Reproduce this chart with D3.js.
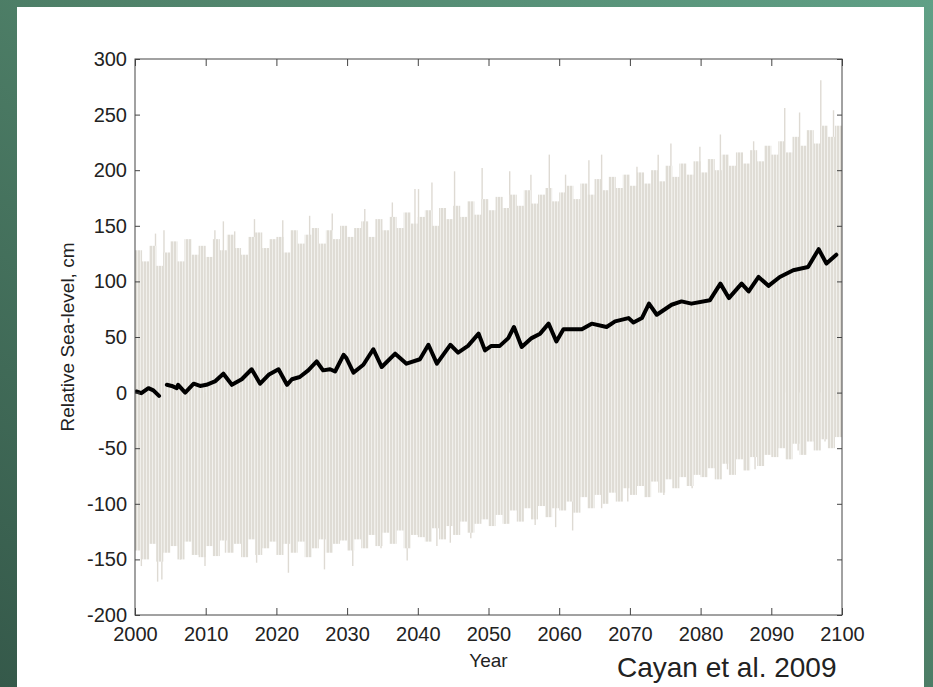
<!DOCTYPE html>
<html>
<head>
<meta charset="utf-8">
<script src="https://cdn.jsdelivr.net/npm/d3@7"></script>
<style>
    body { margin: 0; padding: 0; overflow: hidden; }
    text { font-family: "Liberation Sans", Arial, sans-serif; fill: #222; }
</style>
</head>
<body>
<svg id="Chart"></svg>
<script>
    // hourly tide envelope, one value per year (typical upper and lower extent), cm
    let tideYears = d3.range(2000, 2100);
    let tideHigh = [
        128, 118, 132, 114, 126, 136, 118, 138, 124, 132,
        122, 138, 128, 142, 130, 124, 140, 144, 130, 138,
        140, 126, 146, 134, 142, 148, 134, 146, 138, 150,
        140, 148, 154, 140, 156, 146, 158, 148, 162, 152,
        158, 164, 150, 166, 156, 168, 158, 172, 160, 174,
        164, 176, 166, 178, 168, 182, 170, 178, 184, 172,
        180, 186, 174, 188, 178, 192, 182, 194, 184, 196,
        186, 198, 188, 200, 190, 204, 194, 206, 196, 208,
        198, 210, 200, 214, 204, 216, 206, 218, 208, 222,
        214, 226, 216, 230, 222, 236, 224, 240, 230, 240
    ];
    let tideLow = [
        -142, -150, -136, -152, -144, -138, -150, -134, -146, -148,
        -138, -147, -133, -144, -136, -148, -132, -146, -140, -134,
        -146, -136, -144, -134, -148, -140, -132, -144, -136, -133,
        -142, -132, -140, -128, -138, -126, -136, -124, -140, -128,
        -130, -134, -122, -132, -120, -128, -116, -126, -118, -114,
        -120, -110, -118, -106, -116, -104, -114, -102, -112, -104,
        -106, -98, -108, -94, -104, -92, -100, -90, -98, -86,
        -92, -84, -94, -80, -90, -78, -86, -76, -84, -74,
        -76, -68, -78, -64, -74, -60, -70, -58, -66, -56,
        -58, -50, -60, -46, -56, -44, -52, -42, -50, -40
    ];
    // single extreme tides standing out of the envelope
    let peakYears = [2002.9, 2004.1, 2011.3, 2012.5, 2014.1, 2016.9, 2020.9, 2024.7, 2027.9, 2032.5,
        2036.4, 2039.6, 2040.1, 2042.0, 2045.2, 2049.1, 2053.0, 2056.0, 2058.6, 2060.9,
        2064.2, 2066.0, 2071.0, 2074.0, 2075.8, 2079.9, 2082.8, 2087.5, 2091.9, 2094.0, 2097.0, 2098.8];
    let peakValues = [143, 146, 146, 154, 145, 156, 155, 159, 161, 165,
        171, 183, 183, 189, 199, 202, 199, 196, 214, 196,
        209, 214, 203, 214, 224, 221, 232, 226, 256, 252, 281, 254];
    let troughYears = [2000.9, 2003.2, 2003.8, 2006.4, 2009.9, 2012.8, 2017.2, 2021.7, 2026.8, 2030.8,
        2034.8, 2038.5, 2042.7, 2044.6, 2047.5, 2052.3, 2056.6, 2059.5, 2061.9, 2066.0,
        2069.7, 2074.8, 2078.8, 2083.8, 2087.7, 2093.8, 2097.6];
    let troughValues = [-156, -170, -168, -150, -156, -144, -153, -162, -159, -156,
        -140, -151, -138, -135, -131, -118, -119, -121, -124, -104,
        -98, -92, -86, -69, -69, -52, -44];

    // smoothed relative sea level (black curve); NaN marks the data gap
    let meanYears = [2000.2, 2000.9, 2001.9, 2002.6, 2003.4, 2003.9,
        2004.5, 2005.2, 2005.9, 2006.1, 2007.1, 2008.3, 2009.2, 2010.1, 2011.3, 2012.5,
        2013.7, 2015.1, 2016.5, 2017.7, 2018.9, 2020.3, 2021.5, 2022.2, 2023.3, 2024.5,
        2025.7, 2026.6, 2027.6, 2028.3, 2029.5, 2029.9, 2030.9, 2032.3, 2033.7, 2034.9,
        2036.8, 2038.4, 2040.3, 2041.5, 2042.7, 2044.6, 2045.7, 2047.1, 2048.6, 2049.5,
        2050.4, 2051.6, 2052.8, 2053.6, 2054.7, 2056.1, 2057.3, 2058.5, 2059.6, 2060.6,
        2063.2, 2064.6, 2066.7, 2067.9, 2069.8, 2070.5, 2071.7, 2072.7, 2073.8, 2075.9,
        2077.3, 2078.7, 2081.3, 2082.8, 2084.0, 2085.8, 2086.8, 2088.2, 2089.6, 2091.2,
        2093.1, 2095.2, 2096.7, 2097.8, 2099.2];
    let meanValues = [1, -0.5, 4, 2, -3, NaN,
        7, 6, 4, 7, 0, 8, 6, 7, 10, 17,
        7, 12, 21, 8, 16, 21, 7, 12, 14, 20,
        28, 20, 21, 19, 34, 31, 18, 25, 39, 23,
        35, 26, 30, 43, 26, 43, 36, 42, 53, 38,
        42, 42, 49, 59, 41, 49, 53, 62, 46, 57,
        57, 62, 59, 64, 67, 63, 67, 80, 70, 79,
        82, 80, 83, 98, 85, 98, 91, 104, 96, 104,
        110, 113, 129, 116, 124];

    let xTicks = d3.range(2000, 2101, 10);
    let yTicks = d3.range(-200, 301, 50);

    function getConfig() {
        let width = 933;
        let height = 687;
        let margin = {top: 59, bottom: 72, left: 135, right: 91};
        let bodyWidth = width - margin.left - margin.right;
        let bodyHeight = height - margin.top - margin.bottom;
        let container = d3.select("#Chart")
            .attr("width", width)
            .attr("height", height);
        return {width, height, margin, bodyWidth, bodyHeight, container};
    }

    function getScales(config) {
        let xScale = d3.scaleLinear().domain([2000, 2100]).range([0, config.bodyWidth]);
        let yScale = d3.scaleLinear().domain([-200, 300]).range([config.bodyHeight, 0]);
        return {xScale, yScale};
    }

    function drawBackground(config) {
        let {container, width, height} = config;
        let defs = container.append("defs");
        let grad = defs.append("linearGradient")
            .attr("id", "frameGrad")
            .attr("x1", 0).attr("y1", 1).attr("x2", 1).attr("y2", 0);
        grad.append("stop").attr("offset", "0%").attr("stop-color", "#35594a");
        grad.append("stop").attr("offset", "55%").attr("stop-color", "#4f8169");
        grad.append("stop").attr("offset", "100%").attr("stop-color", "#60a086");

        // vertical stripes of the hourly record
        let pat = defs.append("pattern")
            .attr("id", "stripes")
            .attr("patternUnits", "userSpaceOnUse")
            .attr("width", 3).attr("height", 10);
        pat.append("rect").attr("width", 3).attr("height", 10).attr("fill", "#f1f0ec");
        pat.append("rect").attr("width", 2).attr("height", 10).attr("fill", "#dfdcd5");

        defs.append("clipPath").attr("id", "plotClip")
            .append("rect")
            .attr("width", config.bodyWidth).attr("height", config.bodyHeight);

        container.append("rect")
            .attr("width", width).attr("height", height)
            .attr("fill", "url(#frameGrad)");
        container.append("rect")
            .attr("x", 17).attr("y", 7)
            .attr("width", 907).attr("height", height - 7)
            .attr("fill", "#ffffff");
    }

    function drawTides(scales, config) {
        let {xScale, yScale} = scales;
        let body = config.container.append("g")
            .attr("transform", `translate(${config.margin.left},${config.margin.top})`)
            .attr("clip-path", "url(#plotClip)");

        let peaks = peakYears.map((yr, i) => ({yr, v: peakValues[i]}))
            .concat(troughYears.map((yr, i) => ({yr, v: troughValues[i]})));
        body.selectAll(".spike")
            .data(peaks)
            .enter()
            .append("line")
            .attr("x1", d => xScale(d.yr))
            .attr("x2", d => xScale(d.yr))
            .attr("y1", d => yScale(d.v))
            .attr("y2", yScale(0))
            .attr("stroke", "#dedad3")
            .attr("stroke-width", 1.4);

        let bands = tideYears.map((yr, i) => ({yr, hi: tideHigh[i], lo: tideLow[i]}));
        body.selectAll(".band")
            .data(bands)
            .enter()
            .append("rect")
            .attr("x", d => xScale(d.yr))
            .attr("width", d => xScale(d.yr + 1) - xScale(d.yr))
            .attr("y", d => yScale(d.hi))
            .attr("height", d => yScale(d.lo) - yScale(d.hi))
            .attr("fill", "url(#stripes)");
        return body;
    }

    function drawMeanLine(body, scales) {
        let {xScale, yScale} = scales;
        let points = meanYears.map((yr, i) => ({yr, v: meanValues[i]}));
        let line = d3.line()
            .defined(d => !isNaN(d.v))
            .x(d => xScale(d.yr))
            .y(d => yScale(d.v));
        body.append("path")
            .datum(points)
            .attr("d", line)
            .attr("fill", "none")
            .attr("stroke", "#000")
            .attr("stroke-width", 4)
            .attr("stroke-linejoin", "round")
            .attr("stroke-linecap", "round");
    }

    function drawAxes(scales, config) {
        let {xScale, yScale} = scales;
        let {container, margin, bodyWidth, bodyHeight} = config;
        let g = container.append("g")
            .attr("transform", `translate(${margin.left},${margin.top})`);

        // plain hyphen for negatives, as in the original figure
        let fmt = d => String(d);
        let axisBottom = d3.axisBottom(xScale).tickValues(xTicks)
            .tickSize(-7).tickSizeOuter(0).tickPadding(12).tickFormat(fmt);
        let axisTop = d3.axisTop(xScale).tickValues(xTicks)
            .tickSize(-7).tickSizeOuter(0).tickFormat("");
        let axisLeft = d3.axisLeft(yScale).tickValues(yTicks)
            .tickSize(-5).tickSizeOuter(0).tickPadding(8).tickFormat(fmt);
        let axisRight = d3.axisRight(yScale).tickValues(yTicks)
            .tickSize(-5).tickSizeOuter(0).tickFormat("");

        let parts = [
            g.append("g").attr("transform", `translate(0,${bodyHeight})`).call(axisBottom),
            g.append("g").call(axisTop),
            g.append("g").call(axisLeft),
            g.append("g").attr("transform", `translate(${bodyWidth},0)`).call(axisRight)
        ];
        parts.forEach(p => {
            p.select(".domain").remove();
            p.selectAll("line").attr("stroke", "#444");
            p.selectAll("text")
                .style("font-family", "'Liberation Sans', Arial, sans-serif")
                .style("font-size", "20px")
                .attr("fill", "#222");
        });

        g.append("rect")
            .attr("width", bodyWidth).attr("height", bodyHeight)
            .attr("fill", "none")
            .attr("stroke", "#444")
            .attr("stroke-width", 1);

        container.append("text")
            .attr("x", margin.left + bodyWidth / 2)
            .attr("y", 667)
            .attr("text-anchor", "middle")
            .style("font-size", "19px")
            .text("Year");

        container.append("text")
            .attr("transform", `translate(74,${margin.top + bodyHeight / 2}) rotate(-90)`)
            .attr("text-anchor", "middle")
            .style("font-size", "19px")
            .text("Relative Sea-level, cm");

        container.append("text")
            .attr("x", 617)
            .attr("y", 677)
            .style("font-size", "28px")
            .attr("fill", "#111")
            .text("Cayan et al. 2009");
    }

    function showChart() {
        let config = getConfig();
        let scales = getScales(config);
        drawBackground(config);
        let body = drawTides(scales, config);
        drawMeanLine(body, scales);
        drawAxes(scales, config);
    }

    showChart();
</script>
</body>
</html>
